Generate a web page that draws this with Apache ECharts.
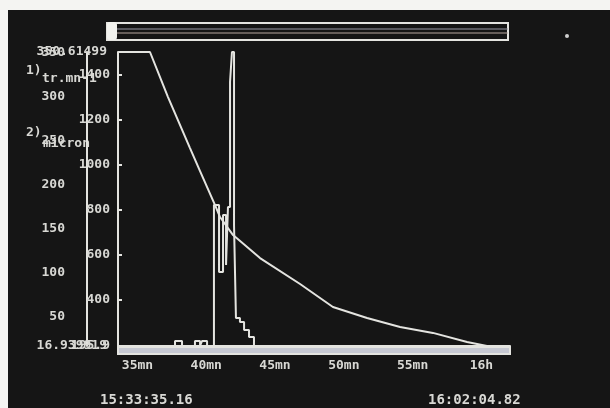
<!DOCTYPE html>
<html>
<head>
<meta charset="utf-8">
<script src="https://cdn.jsdelivr.net/npm/echarts@6/dist/echarts.min.js"></script>
<style>
html, body { margin: 0; padding: 0; background: #f4f4f2; }
#screen { position: absolute; left: 8px; top: 10px; width: 602px; height: 398px; }
</style>
</head>
<body>
<div id="screen"></div>
<script>
// start / end stamps of the record
var timeSpan = ['15:33:35.16', '16:02:04.82'];

// x ticks, minutes past 15h
var xTicks = [35, 40, 45, 50, 55, 60];
var xTickLabels = ['35mn', '40mn', '45mn', '50mn', '55mn', '16h'];

// 1) tr.mn-1 scale (outer left axis)
var rateMin = 16.939919;
var rateMax = 350.61499;
var rateTicks = [50, 100, 150, 200, 250, 300, 350];

// 2) micron scale (inner left axis)
var sizeMin = 195.9;
var sizeMax = 1500;
var sizeTicks = [400, 600, 800, 1000, 1200, 1400];

// decay curve (micron), minutes past 15h
var sizeTime = [33.586, 35.91, 37.22, 38.82, 39.55, 40.64, 41.00, 41.95, 43.91, 46.82, 49.21, 51.69, 54.09, 56.48, 58.96, 60.41, 62.08];
var sizeVal  = [1500, 1500, 1300, 1074, 972, 821, 768, 688, 586, 471, 369, 320, 280, 254, 214, 196, 195.9];

// pulse trace (tr.mn-1), held until next time
var rateTime = [33.586, 37.73, 38.24, 39.18, 39.55, 39.69, 40.06, 40.56, 40.93, 41.22, 41.44, 41.58, 41.73, 41.87, 42.02, 42.16, 42.45, 42.75, 43.11, 43.47, 62.08];
var rateVal  = [16.939919, 22.5, 16.939919, 22.5, 16.939919, 22.5, 16.939919, 177, 100.9, 165.6, 108.9, 174.7, 316.6, 350.61499, 154.3, 48.7, 44.2, 35.1, 27.2, 16.939919, 16.939919];

function toMinutes(s) {
  var p = s.split(':');
  return (+p[0] - 15) * 60 + (+p[1]) + (+p[2]) / 60;
}

var ink = '#e4e4e0';
var txt = { color: '#d8d8d4', fontFamily: 'DejaVu Sans Mono', fontSize: 13, fontWeight: 'bold' };

var chart = echarts.init(document.getElementById('screen'));
chart.setOption({
  animation: false,
  backgroundColor: '#151515',
  grid: { left: 110, right: 100, top: 42, bottom: 62 },
  xAxis: {
    type: 'value',
    min: toMinutes(timeSpan[0]),
    max: toMinutes(timeSpan[1]),
    axisLine: { lineStyle: { color: ink, width: 2 } },
    axisTick: { show: false },
    splitLine: { show: false },
    axisLabel: Object.assign({}, txt, {
      customValues: xTicks,
      margin: 13,
      formatter: function (v) { return xTickLabels[xTicks.indexOf(v)]; }
    })
  },
  yAxis: [
    {
      type: 'value', position: 'left', offset: 31,
      min: rateMin, max: rateMax,
      axisLine: { show: true, lineStyle: { color: ink, width: 2 } },
      axisTick: { show: false },
      splitLine: { show: false },
      axisLabel: Object.assign({}, txt, {
        customValues: rateTicks, margin: 22, padding: [6, 0, 0, 0],
        formatter: function (v) { return String(v); }
      })
    },
    {
      type: 'value', position: 'left', offset: 0,
      min: sizeMin, max: sizeMax,
      axisLine: { show: true, lineStyle: { color: ink, width: 2 } },
      axisTick: { show: true, inside: true, length: 4, customValues: sizeTicks, lineStyle: { color: ink, width: 2 } },
      splitLine: { show: false },
      axisLabel: Object.assign({}, txt, {
        customValues: [sizeMin].concat(sizeTicks), margin: 8,
        formatter: function (v) { return String(v); }
      })
    },
    {
      // full precision extremes of the tr.mn-1 scale
      type: 'value', position: 'left', offset: 31,
      min: rateMin, max: rateMax,
      axisLine: { show: false },
      axisTick: { show: false },
      splitLine: { show: false },
      axisLabel: Object.assign({}, txt, {
        customValues: [rateMin, rateMax], margin: -20,
        formatter: function (v) { return String(v); }
      })
    }
  ],
  series: [
    {
      type: 'line', yAxisIndex: 1, symbol: 'none', clip: false,
      lineStyle: { color: ink, width: 2 },
      data: sizeTime.map(function (t, i) { return [t, sizeVal[i]]; })
    },
    {
      type: 'line', yAxisIndex: 0, symbol: 'none', clip: false, step: 'end',
      lineStyle: { color: ink, width: 2 },
      data: rateTime.map(function (t, i) { return [t, rateVal[i]]; })
    }
  ],
  graphic: [
    // scroll bar on top
    { type: 'rect', shape: { x: 99, y: 13, width: 401, height: 17 }, style: { fill: 'none', stroke: ink, lineWidth: 2 } },
    { type: 'line', shape: { x1: 109, y1: 19, x2: 500, y2: 19 }, style: { stroke: '#9a9aa6', lineWidth: 1 } },
    { type: 'line', shape: { x1: 109, y1: 23, x2: 500, y2: 23 }, style: { stroke: '#b8a8a0', lineWidth: 1 } },
    { type: 'rect', shape: { x: 99, y: 12, width: 10, height: 18, r: 3 }, style: { fill: '#f2f2ee' } },
    // bar under the x axis
    { type: 'rect', shape: { x: 110, y: 337, width: 392, height: 7 }, style: { fill: '#c6c8d2', stroke: ink, lineWidth: 2 } },
    // axis names
    { type: 'text', x: 18, y: 54, style: Object.assign({ text: '1)' }, txt, { fill: txt.color }) },
    { type: 'text', x: 34, y: 62, style: Object.assign({ text: 'tr.mn-1' }, txt, { fill: txt.color }) },
    { type: 'text', x: 18, y: 116, style: Object.assign({ text: '2)' }, txt, { fill: txt.color }) },
    { type: 'text', x: 35, y: 127, style: Object.assign({ text: 'micron' }, txt, { fill: txt.color }) },
    // time stamps
    { type: 'text', x: 92, y: 383, style: { text: timeSpan[0], fill: txt.color, fontFamily: txt.fontFamily, fontSize: 14, fontWeight: 'bold' } },
    { type: 'text', x: 420, y: 383, style: { text: timeSpan[1], fill: txt.color, fontFamily: txt.fontFamily, fontSize: 14, fontWeight: 'bold' } },
    // glare spot on the screen
    { type: 'circle', shape: { cx: 559, cy: 26, r: 2 }, style: { fill: '#cfcfcf' } }
  ]
});
</script>
</body>
</html>
